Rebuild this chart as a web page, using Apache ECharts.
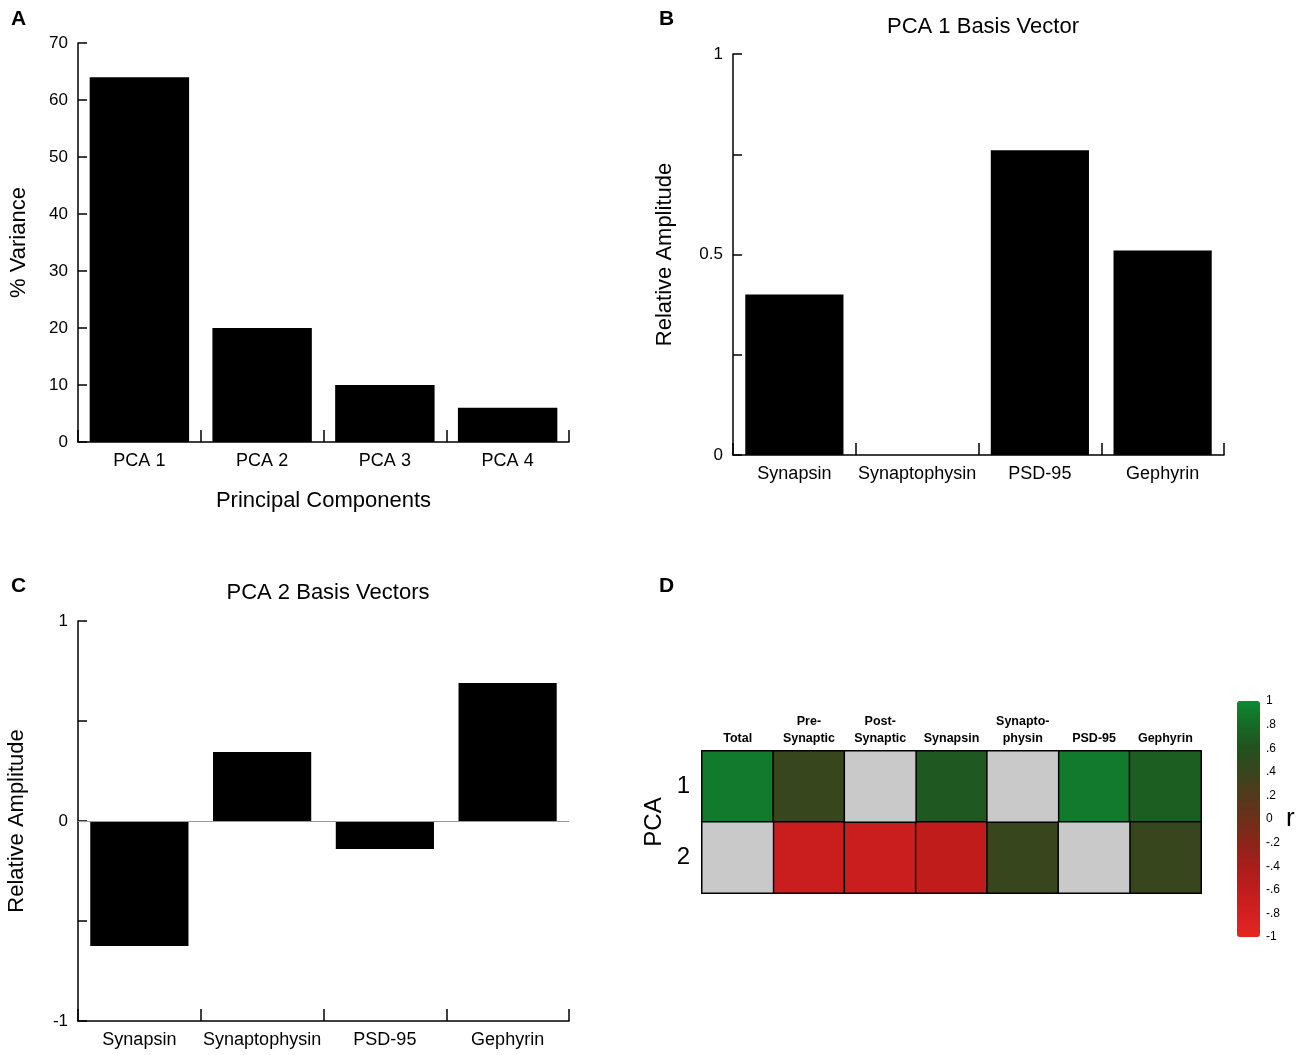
<!DOCTYPE html>
<html>
<head>
<meta charset="utf-8">
<title>PCA</title>
<script src="https://cdn.jsdelivr.net/npm/echarts@6/dist/echarts.min.js"></script>
<style>
  html, body { margin: 0; padding: 0; background: #fff; }
  #main { width: 1300px; height: 1055px; }
</style>
</head>
<body>
<div id="main"></div>
<script>
// panel A - variance explained
var pcaNames = ['PCA 1', 'PCA 2', 'PCA 3', 'PCA 4'];
var pctVariance = [64, 20, 10, 6];

// panels B, C - basis vectors
var markers = ['Synapsin', 'Synaptophysin', 'PSD-95', 'Gephyrin'];
var pca1Basis = [0.40, 0, 0.76, 0.51];
var pca2Basis = [-0.625, 0.345, -0.14, 0.69];

// panel D - correlations (null = not significant, drawn grey)
var heatCols = ['Total', 'Pre-\nSynaptic', 'Post-\nSynaptic', 'Synapsin', 'Synapto-\nphysin', 'PSD-95', 'Gephyrin'];
var heatRows = ['1', '2'];
var pca1R = [0.9, 0.4, null, 0.65, null, 0.9, 0.7];
var pca2R = [null, -0.7, -0.7, -0.6, 0.4, null, 0.4];

var FONT = 'Liberation Sans, Arial, Helvetica, sans-serif';

var sigCells = [], nsCells = [];
[pca1R, pca2R].forEach(function (row, r) {
    row.forEach(function (v, c) {
        if (v === null) nsCells.push([c, r, 0]);
        else sigCells.push([c, r, v]);
    });
});

function valueAxis(gridIndex, min, max, interval, shown, name, gap) {
    return {
        type: 'value', gridIndex: gridIndex, min: min, max: max, interval: interval,
        name: name, nameLocation: 'middle', nameGap: gap,
        nameTextStyle: { fontSize: 22, color: '#000', fontFamily: FONT },
        axisLine: { show: true, lineStyle: { color: '#000', width: 1.5 } },
        axisTick: { show: true, inside: true, length: 9, lineStyle: { color: '#000', width: 1.5 } },
        axisLabel: {
            fontSize: 17, color: '#000', fontFamily: FONT, margin: 10,
            formatter: function (v) { return shown.indexOf(v) >= 0 ? String(v) : ''; }
        },
        splitLine: { show: false }
    };
}

function catAxis(gridIndex, data, name) {
    return {
        type: 'category', gridIndex: gridIndex, data: data,
        name: name || '', nameLocation: 'middle', nameGap: 48,
        nameTextStyle: { fontSize: 22, color: '#000', fontFamily: FONT },
        axisLine: { show: true, onZero: false, lineStyle: { color: '#000', width: 1.5 } },
        axisTick: { show: true, inside: true, interval: 0, length: 12, lineStyle: { color: '#000', width: 1.5 } },
        axisLabel: { interval: 0, fontSize: 18, color: '#000', fontFamily: FONT, margin: 10 }
    };
}

var myChart = echarts.init(document.getElementById('main'));

myChart.setOption({
    animation: false,
    textStyle: { fontFamily: FONT },
    title: [
        { text: 'A', left: 6, top: 4, textStyle: { fontSize: 21, fontWeight: 'bold', color: '#000' } },
        { text: 'B', left: 654, top: 4, textStyle: { fontSize: 21, fontWeight: 'bold', color: '#000' } },
        { text: 'C', left: 6, top: 571, textStyle: { fontSize: 21, fontWeight: 'bold', color: '#000' } },
        { text: 'D', left: 654, top: 571, textStyle: { fontSize: 21, fontWeight: 'bold', color: '#000' } },
        { text: 'PCA 1 Basis Vector', left: 978, top: 11, textAlign: 'center',
          textStyle: { fontSize: 22, fontWeight: 'normal', color: '#000' } },
        { text: 'PCA 2 Basis Vectors', left: 323, top: 577, textAlign: 'center',
          textStyle: { fontSize: 22, fontWeight: 'normal', color: '#000' } }
    ],
    grid: [
        { left: 78, width: 491, top: 43, height: 399 },
        { left: 733, width: 491, top: 54, height: 401 },
        { left: 78, width: 491, top: 621, height: 400 },
        { left: 702, width: 499, top: 751, height: 142 },
        { left: 1237, width: 23, top: 701, height: 236 }
    ],
    xAxis: [
        catAxis(0, pcaNames, 'Principal Components'),
        catAxis(1, markers),
        catAxis(2, markers),
        {
            type: 'category', gridIndex: 3, data: heatCols, position: 'top',
            axisLine: { show: false }, axisTick: { show: false },
            axisLabel: { interval: 0, fontSize: 12.5, fontWeight: 'bold', color: '#000', margin: 4, lineHeight: 17 }
        },
        { type: 'value', gridIndex: 4, show: false }
    ],
    yAxis: [
        valueAxis(0, 0, 70, 10, [0, 10, 20, 30, 40, 50, 60, 70], '% Variance', 48),
        valueAxis(1, 0, 1, 0.25, [0, 0.5, 1], 'Relative Amplitude', 57),
        valueAxis(2, -1, 1, 0.5, [-1, 0, 1], 'Relative Amplitude', 50),
        {
            type: 'category', gridIndex: 3, data: heatRows, inverse: true,
            name: 'PCA', nameLocation: 'middle', nameGap: 36,
            nameTextStyle: { fontSize: 24, color: '#000' },
            axisLine: { show: false }, axisTick: { show: false },
            axisLabel: { fontSize: 24, color: '#000', margin: 12 }
        },
        {
            type: 'value', gridIndex: 4, position: 'right', min: -1, max: 1, interval: 0.2,
            name: 'r', nameLocation: 'middle', nameGap: 26, nameRotate: 0,
            nameTextStyle: { fontSize: 26, color: '#000' },
            axisLine: { show: false }, axisTick: { show: false }, splitLine: { show: false },
            axisLabel: {
                fontSize: 12, color: '#000', margin: 6,
                formatter: function (v) {
                    v = Math.round(v * 10) / 10;
                    if (v === 1 || v === -1 || v === 0) return String(v);
                    return (v < 0 ? '-' : '') + String(Math.abs(v)).replace('0.', '.');
                }
            }
        }
    ],
    visualMap: {
        type: 'continuous', seriesIndex: 3, min: -1, max: 1,
        left: 1237, top: 701, itemWidth: 23, itemHeight: 236, padding: 0,
        calculable: false, text: ['', ''], showLabel: false,
        inRange: {
            color: ['#e5261f', '#d22020', '#c11c1c', '#a81d1b', '#8a2519', '#6d2f1a',
                    '#523a1b', '#38461d', '#22521d', '#156a27', '#0e8a33']
        }
    },
    series: [
        {
            type: 'bar', xAxisIndex: 0, yAxisIndex: 0, data: pctVariance,
            barCategoryGap: '19%', itemStyle: { color: '#000' }
        },
        {
            type: 'bar', xAxisIndex: 1, yAxisIndex: 1, data: pca1Basis,
            barCategoryGap: '20%', itemStyle: { color: '#000' }
        },
        {
            type: 'bar', xAxisIndex: 2, yAxisIndex: 2, data: pca2Basis,
            barCategoryGap: '20%', itemStyle: { color: '#000' },
            markLine: {
                silent: true, symbol: 'none', label: { show: false },
                lineStyle: { color: '#999', width: 1.2, type: 'solid' },
                data: [{ yAxis: 0 }]
            }
        },
        {
            type: 'heatmap', xAxisIndex: 3, yAxisIndex: 3, data: sigCells,
            itemStyle: { borderColor: '#000', borderWidth: 1.5 }
        },
        {
            type: 'heatmap', xAxisIndex: 3, yAxisIndex: 3, data: nsCells,
            itemStyle: { color: '#c9c9c9', borderColor: '#000', borderWidth: 1.5 }
        }
    ]
});
</script>
</body>
</html>
